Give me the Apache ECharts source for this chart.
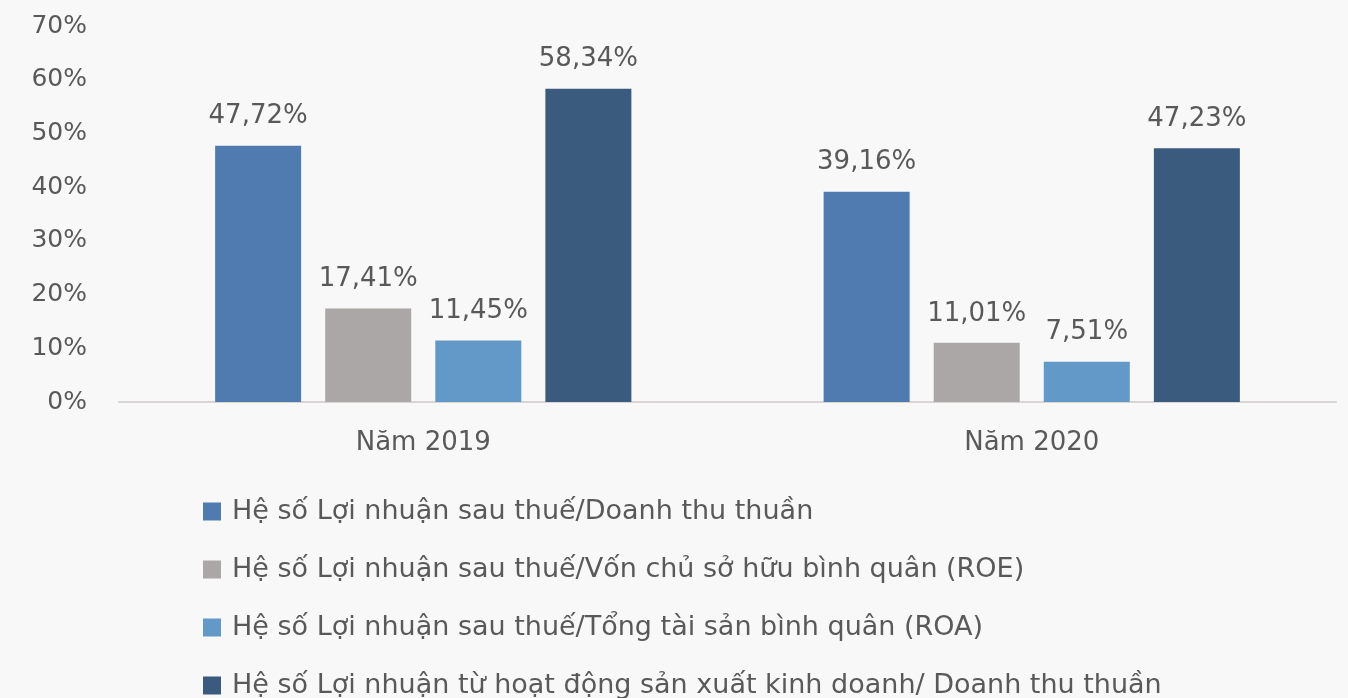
<!DOCTYPE html>
<html>
<head>
<meta charset="utf-8">
<script src="https://cdn.jsdelivr.net/npm/echarts@6/dist/echarts.min.js"></script>
<style>
  html, body { margin: 0; padding: 0; background: #f8f8f8; }
  #main { width: 1348px; height: 698px; }
</style>
</head>
<body>
<div id="main"></div>
<script>
// data
const categories = ['Năm 2019', 'Năm 2020'];
const seriesNames = [
  'Hệ số Lợi nhuận sau thuế/Doanh thu thuần',
  'Hệ số Lợi nhuận sau thuế/Vốn chủ sở hữu bình quân (ROE)',
  'Hệ số Lợi nhuận sau thuế/Tổng tài sản bình quân (ROA)',
  'Hệ số Lợi nhuận từ hoạt động sản xuất kinh doanh/ Doanh thu thuần'
];
const netMargin = [47.72, 39.16];
const roe = [17.41, 11.01];
const roa = [11.45, 7.51];
const opMargin = [58.34, 47.23];
const colors = ['#4f7bb0', '#aba7a6', '#6399c8', '#3a5a7e'];

const FONT = '"DejaVu Sans", sans-serif';
const TXT = '#595959';

const chart = echarts.init(document.getElementById('main'));

const fmt = v => v.toFixed(2).replace('.', ',') + '%';

const mk = (name, data, i) => ({
  name: name,
  type: 'bar',
  data: data,
  barWidth: 86,
  barGap: '28%',
  itemStyle: { color: colors[i] },
  label: {
    show: true,
    position: 'top',
    distance: 16,
    formatter: p => fmt(p.value),
    color: TXT,
    fontFamily: FONT,
    fontSize: 26
  }
});

chart.setOption({
  backgroundColor: '#f8f8f8',
  animation: false,
  grid: { left: 119, right: 12, top: 26, bottom: 296 },
  xAxis: {
    type: 'category',
    data: categories,
    axisLine: { lineStyle: { color: '#d9d5d5', width: 2 } },
    axisTick: { show: false },
    axisLabel: { color: TXT, fontFamily: FONT, fontSize: 26, margin: 28 }
  },
  yAxis: {
    type: 'value',
    min: 0,
    max: 70,
    interval: 10,
    axisLine: { show: false },
    axisTick: { show: false },
    splitLine: { show: false },
    axisLabel: { color: TXT, fontFamily: FONT, fontSize: 25, margin: 32, formatter: '{value}%' }
  },
  legend: {
    orient: 'vertical',
    left: 203,
    top: 498,
    height: 260,
    padding: 0,
    itemGap: 31,
    itemWidth: 18,
    itemHeight: 18,
    icon: 'rect',
    textStyle: { color: TXT, fontFamily: FONT, fontSize: 27, padding: [0, 0, 0, 6] },
    data: seriesNames
  },
  series: [
    mk(seriesNames[0], netMargin, 0),
    mk(seriesNames[1], roe, 1),
    mk(seriesNames[2], roa, 2),
    mk(seriesNames[3], opMargin, 3)
  ]
});
</script>
</body>
</html>
